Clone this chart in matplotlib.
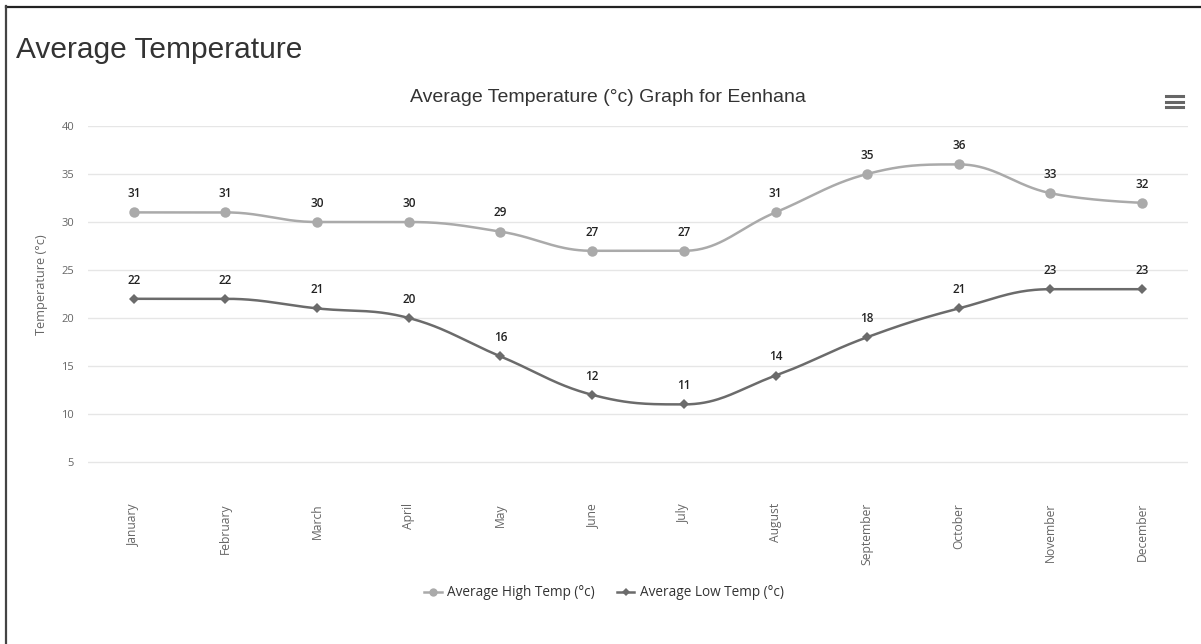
import numpy as np
import matplotlib
matplotlib.use("Agg")
import matplotlib.pyplot as plt
from matplotlib.lines import Line2D

months = ["January", "February", "March", "April", "May", "June", "July",
          "August", "September", "October", "November", "December"]
high_temps = [31, 31, 30, 30, 29, 27, 27, 31, 35, 36, 33, 32]
low_temps = [22, 22, 21, 20, 16, 12, 11, 14, 18, 21, 23, 23]
y_ticks = [5, 10, 15, 20, 25, 30, 35, 40]

W, H = 1201, 644
fig = plt.figure(figsize=(W / 100, H / 100), dpi=100)
fig.patch.set_facecolor("white")


def fx(x):
    return x / W


def fy(y):
    return 1 - y / H


def spline_curve(xs, ys, smoothing=1.5, n=40):
    """Smoothed curve through the points using cubic bezier segments."""
    xs = np.asarray(xs, float)
    ys = np.asarray(ys, float)
    k = len(xs)
    left = [None] * k
    right = [None] * k
    denom = smoothing + 1
    for i in range(1, k - 1):
        px, py = xs[i], ys[i]
        lx, ly = xs[i - 1], ys[i - 1]
        nx, ny = xs[i + 1], ys[i + 1]
        lcx = (smoothing * px + lx) / denom
        lcy = (smoothing * py + ly) / denom
        rcx = (smoothing * px + nx) / denom
        rcy = (smoothing * py + ny) / denom
        if rcx != lcx:
            corr = (rcy - lcy) * (rcx - px) / (rcx - lcx) + py - rcy
            lcy += corr
            rcy += corr
        if lcy > max(ly, py):
            lcy = max(ly, py)
            rcy = 2 * py - lcy
        elif lcy < min(ly, py):
            lcy = min(ly, py)
            rcy = 2 * py - lcy
        if rcy > max(py, ny):
            rcy = max(py, ny)
            lcy = 2 * py - rcy
        elif rcy < min(py, ny):
            rcy = min(py, ny)
            lcy = 2 * py - rcy
        left[i] = (lcx, lcy)
        right[i] = (rcx, rcy)
    cx, cy = [xs[0]], [ys[0]]
    t = np.linspace(0, 1, n)[1:]
    for i in range(1, k):
        p0 = np.array([xs[i - 1], ys[i - 1]])
        p1 = np.array(right[i - 1] if right[i - 1] else p0)
        p3 = np.array([xs[i], ys[i]])
        p2 = np.array(left[i] if left[i] else p3)
        b = ((1 - t) ** 3)[:, None] * p0 + (3 * (1 - t) ** 2 * t)[:, None] * p1 \
            + (3 * (1 - t) * t ** 2)[:, None] * p2 + (t ** 3)[:, None] * p3
        cx.extend(b[:, 0])
        cy.extend(b[:, 1])
    return np.array(cx), np.array(cy)


# plot area
left_px, right_px, top_px, bottom_px = 88, 1188, 126, 510
ax = fig.add_axes([fx(left_px), fy(bottom_px), (right_px - left_px) / W,
                   (bottom_px - top_px) / H])
ax.set_xlim(-0.5, len(months) - 0.5)
ax.set_ylim(0, 40)
for s in ax.spines.values():
    s.set_visible(False)

for v in y_ticks:
    ax.axhline(v, color="#e6e6e6", lw=1, zorder=0)

x = np.arange(len(months))
high_color = "#aaaaaa"
low_color = "#6b6b6b"

hx, hy = spline_curve(x, high_temps)
ax.plot(hx, hy, color=high_color, lw=1.8, zorder=2, solid_capstyle="round")
ax.plot(x, high_temps, ls="none", marker="o", ms=7.5, color=high_color,
        markeredgewidth=0, zorder=3)

lx, ly = spline_curve(x, low_temps)
ax.plot(lx, ly, color=low_color, lw=1.8, zorder=2, solid_capstyle="round")
ax.plot(x, low_temps, ls="none", marker="D", ms=5, color=low_color,
        markeredgewidth=0, zorder=3)

label_font = ["Open Sans", "DejaVu Sans"]
for series in (high_temps, low_temps):
    for xi, v in zip(x, series):
        ax.annotate(str(v), (xi, v), xytext=(0, 13.5),
                    textcoords="offset points", ha="center", va="center",
                    fontsize=8.5, fontweight="semibold", color="#222222",
                    family=label_font)

ax.set_xticks(x)
ax.set_xticklabels(months, rotation=90, family=label_font, fontsize=8.7,
                   color="#666666")
ax.set_yticks(y_ticks)
ax.set_yticklabels([str(v) for v in y_ticks], family=label_font, fontsize=8,
                   color="#666666")
ax.tick_params(axis="x", length=0, pad=-5)
ax.tick_params(axis="y", length=0, pad=10)

fig.text(fx(41), fy(285), "Temperature (°c)", rotation=90, ha="center",
         va="center", fontsize=9.2, color="#666666", family=label_font)

# page heading and chart title
fig.text(fx(16), fy(50), "Average Temperature", ha="left", va="center",
         fontsize=21.5, color="#333333", family="Liberation Sans")
fig.text(fx(608), fy(98), "Average Temperature (°c) Graph for Eenhana",
         ha="center", va="center", fontsize=14, color="#333333",
         family="Liberation Sans")

# legend
handles = [
    Line2D([], [], color=high_color, lw=1.8, marker="o", ms=6,
           markeredgewidth=0),
    Line2D([], [], color=low_color, lw=1.8, marker="D", ms=4,
           markeredgewidth=0),
]
fig.legend(handles, ["Average High Temp (°c)", "Average Low Temp (°c)"],
           loc="center", bbox_to_anchor=(fx(604), fy(593)), ncol=2,
           frameon=False, handlelength=1.3, columnspacing=1.6,
           handletextpad=0.4, prop={"family": label_font, "size": 9.8})
for t in fig.legends[0].get_texts():
    t.set_color("#333333")

# menu icon
for yy in (96, 102, 107):
    fig.add_artist(Line2D([fx(1166), fx(1183)], [fy(yy), fy(yy)],
                          color="#666666", lw=2.2))

# page border
fig.add_artist(Line2D([fx(6), fx(W)], [fy(6.5), fy(6.5)], color="#222222",
                      lw=1.6))
fig.add_artist(Line2D([fx(6), fx(6)], [fy(6), fy(H)], color="#444444",
                      lw=1.6))

fig.savefig("out.png", dpi=100, facecolor="white")
